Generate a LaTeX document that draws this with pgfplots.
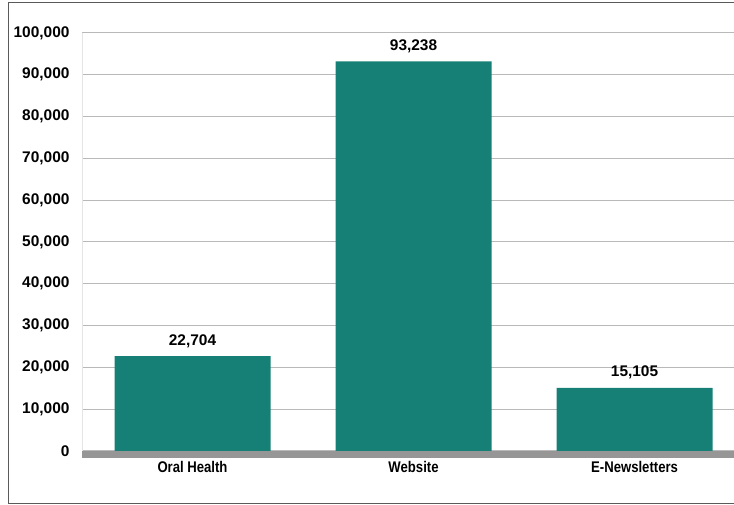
\documentclass[border=0pt]{standalone}
\usepackage{fontspec}
\setmainfont{Liberation Sans}
\newfontfamily\narrowfont{Liberation Sans}[FakeStretch=0.85]
\usepackage{pgfplots}
\pgfplotsset{compat=1.18}
\definecolor{barteal}{RGB}{23,128,118}
\definecolor{floorgray}{RGB}{150,150,150}
\definecolor{framegray}{RGB}{90,90,90}
\begin{document}
\begin{tikzpicture}[x=1bp,y=1bp]
\useasboundingbox (0,0) rectangle (734,505);
\draw[color=framegray, line width=1bp] (734,502) -- (8,502) -- (8,1) -- (734,1);
\begin{axis}[
  at={(82bp,54bp)}, anchor=south west,
  scale only axis, width=652bp, height=418bp,
  xmin=-0.5, xmax=2.45, ymin=0, ymax=100000,
  clip=false,
  ybar, bar width=156bp,
  axis x line*=bottom, axis y line*=left,
  x axis line style={draw=none},
  y axis line style={draw=gray!20, line width=0.8bp},
  ytick={0,10000,...,100000},
  ymajorgrids, grid style={color=gray!55, line width=1bp},
  xtick={0,1,2}, xticklabels={Oral Health,Website,E-Newsletters},
  major tick length=0pt,
  scaled y ticks=false,
  /pgf/number format/assume math mode=true,
  yticklabel style={/pgf/number format/fixed, /pgf/number format/1000 sep={,}, xshift=-9bp, font=\bfseries\fontsize{15.5}{18}\selectfont},
  xticklabel style={yshift=-7bp, font=\narrowfont\bfseries\fontsize{15.5}{18}\selectfont},
  nodes near coords,
  nodes near coords style={font=\bfseries\fontsize{15.5}{18}\selectfont, /pgf/number format/fixed, /pgf/number format/1000 sep={,}, yshift=5bp},
]
\addplot[fill=barteal, draw=none] coordinates {(0,22704) (1,93238) (2,15105)};
\fill[floorgray] (rel axis cs:0,0) rectangle ([yshift=-7bp]rel axis cs:1,0);
\end{axis}
\end{tikzpicture}
\end{document}
